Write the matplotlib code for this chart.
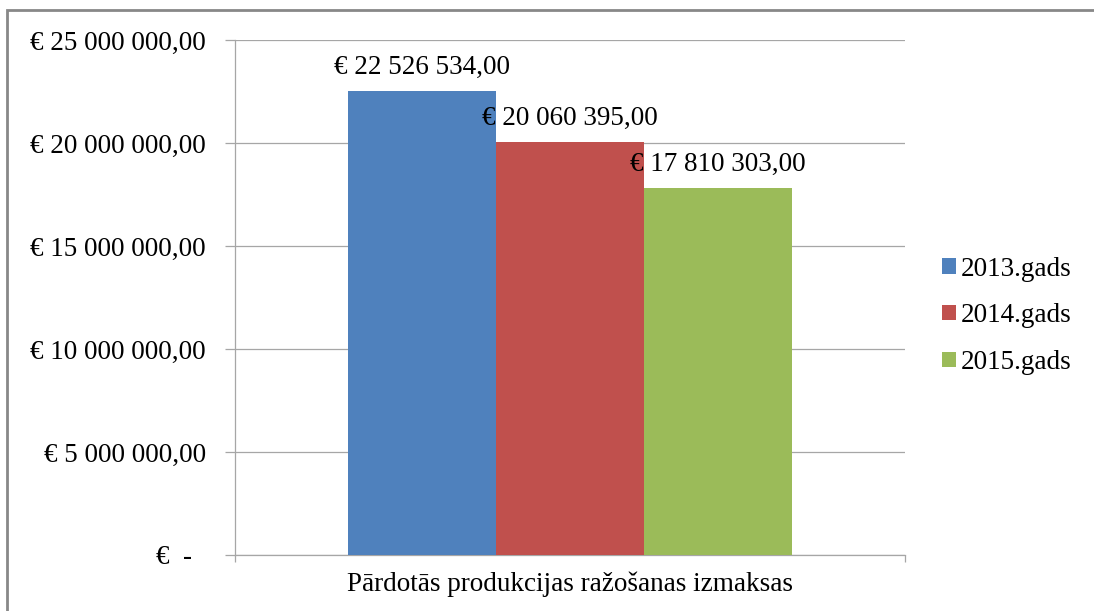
import matplotlib.pyplot as plt
from matplotlib.patches import Rectangle
from matplotlib.ticker import FuncFormatter

plt.rcParams['font.family'] = ['Liberation Serif', 'DejaVu Serif']

category = 'Pārdotās produkcijas ražošanas izmaksas'
years = ['2013.gads', '2014.gads', '2015.gads']
values = [22526534.00, 20060395.00, 17810303.00]
colors = ['#4F81BD', '#C0504D', '#9BBB59']
y_ticks = [0, 5000000, 10000000, 15000000, 20000000, 25000000]


def euro(v, pos=None):
    if v == 0:
        return '€  -  '
    s = '{:,.2f}'.format(v)
    s = s.replace(',', ' ').replace('.', ',')
    return '€ ' + s


fs = 19.5
fig = plt.figure(figsize=(10.94, 6.11), dpi=100)
ax = fig.add_axes([0.2148, 0.0917, 0.6124, 0.8429])

grid_col = '#A6A6A6'
w = 0.221
offsets = [-w, 0, w]
for yr, v, c, off in zip(years, values, colors, offsets):
    ax.bar(off, v, width=w, color=c, label=yr, zorder=3)
    ax.annotate(euro(v), (off, v), xytext=(0, 8), textcoords='offset points',
                ha='center', va='bottom', fontsize=fs, zorder=4)

ax.set_xlim(-0.5, 0.5)
ax.set_ylim(0, 25000000)
ax.set_yticks(y_ticks)
ax.yaxis.set_major_formatter(FuncFormatter(euro))
ax.grid(axis='y', color=grid_col, linewidth=0.9, zorder=0)

ax.set_xticks([0])
ax.set_xticklabels([category])
ax.set_xticks([-0.5, 0.5], minor=True)
ax.tick_params(axis='x', which='major', length=0, pad=12, labelsize=fs)
ax.tick_params(axis='x', which='minor', length=5, color=grid_col, width=0.9)
ax.tick_params(axis='y', length=7, color=grid_col, width=0.9, pad=14, labelsize=fs)

for side in ['top', 'right']:
    ax.spines[side].set_visible(False)
for side in ['left', 'bottom']:
    ax.spines[side].set_color(grid_col)
    ax.spines[side].set_linewidth(0.9)

fig.legend(loc='center left', bbox_to_anchor=(0.839, 0.483), frameon=False,
           fontsize=fs, handlelength=0.5, handleheight=0.5, handletextpad=0.2,
           labelspacing=0.8)

# outer chart border (only top and left visible)
fig.patches.append(Rectangle((7 / 1094, -0.1), 1.2, 1.1 - 10 / 611,
                             transform=fig.transFigure, fill=False,
                             edgecolor='#888888', linewidth=2))

fig.savefig('out.png', dpi=100)
